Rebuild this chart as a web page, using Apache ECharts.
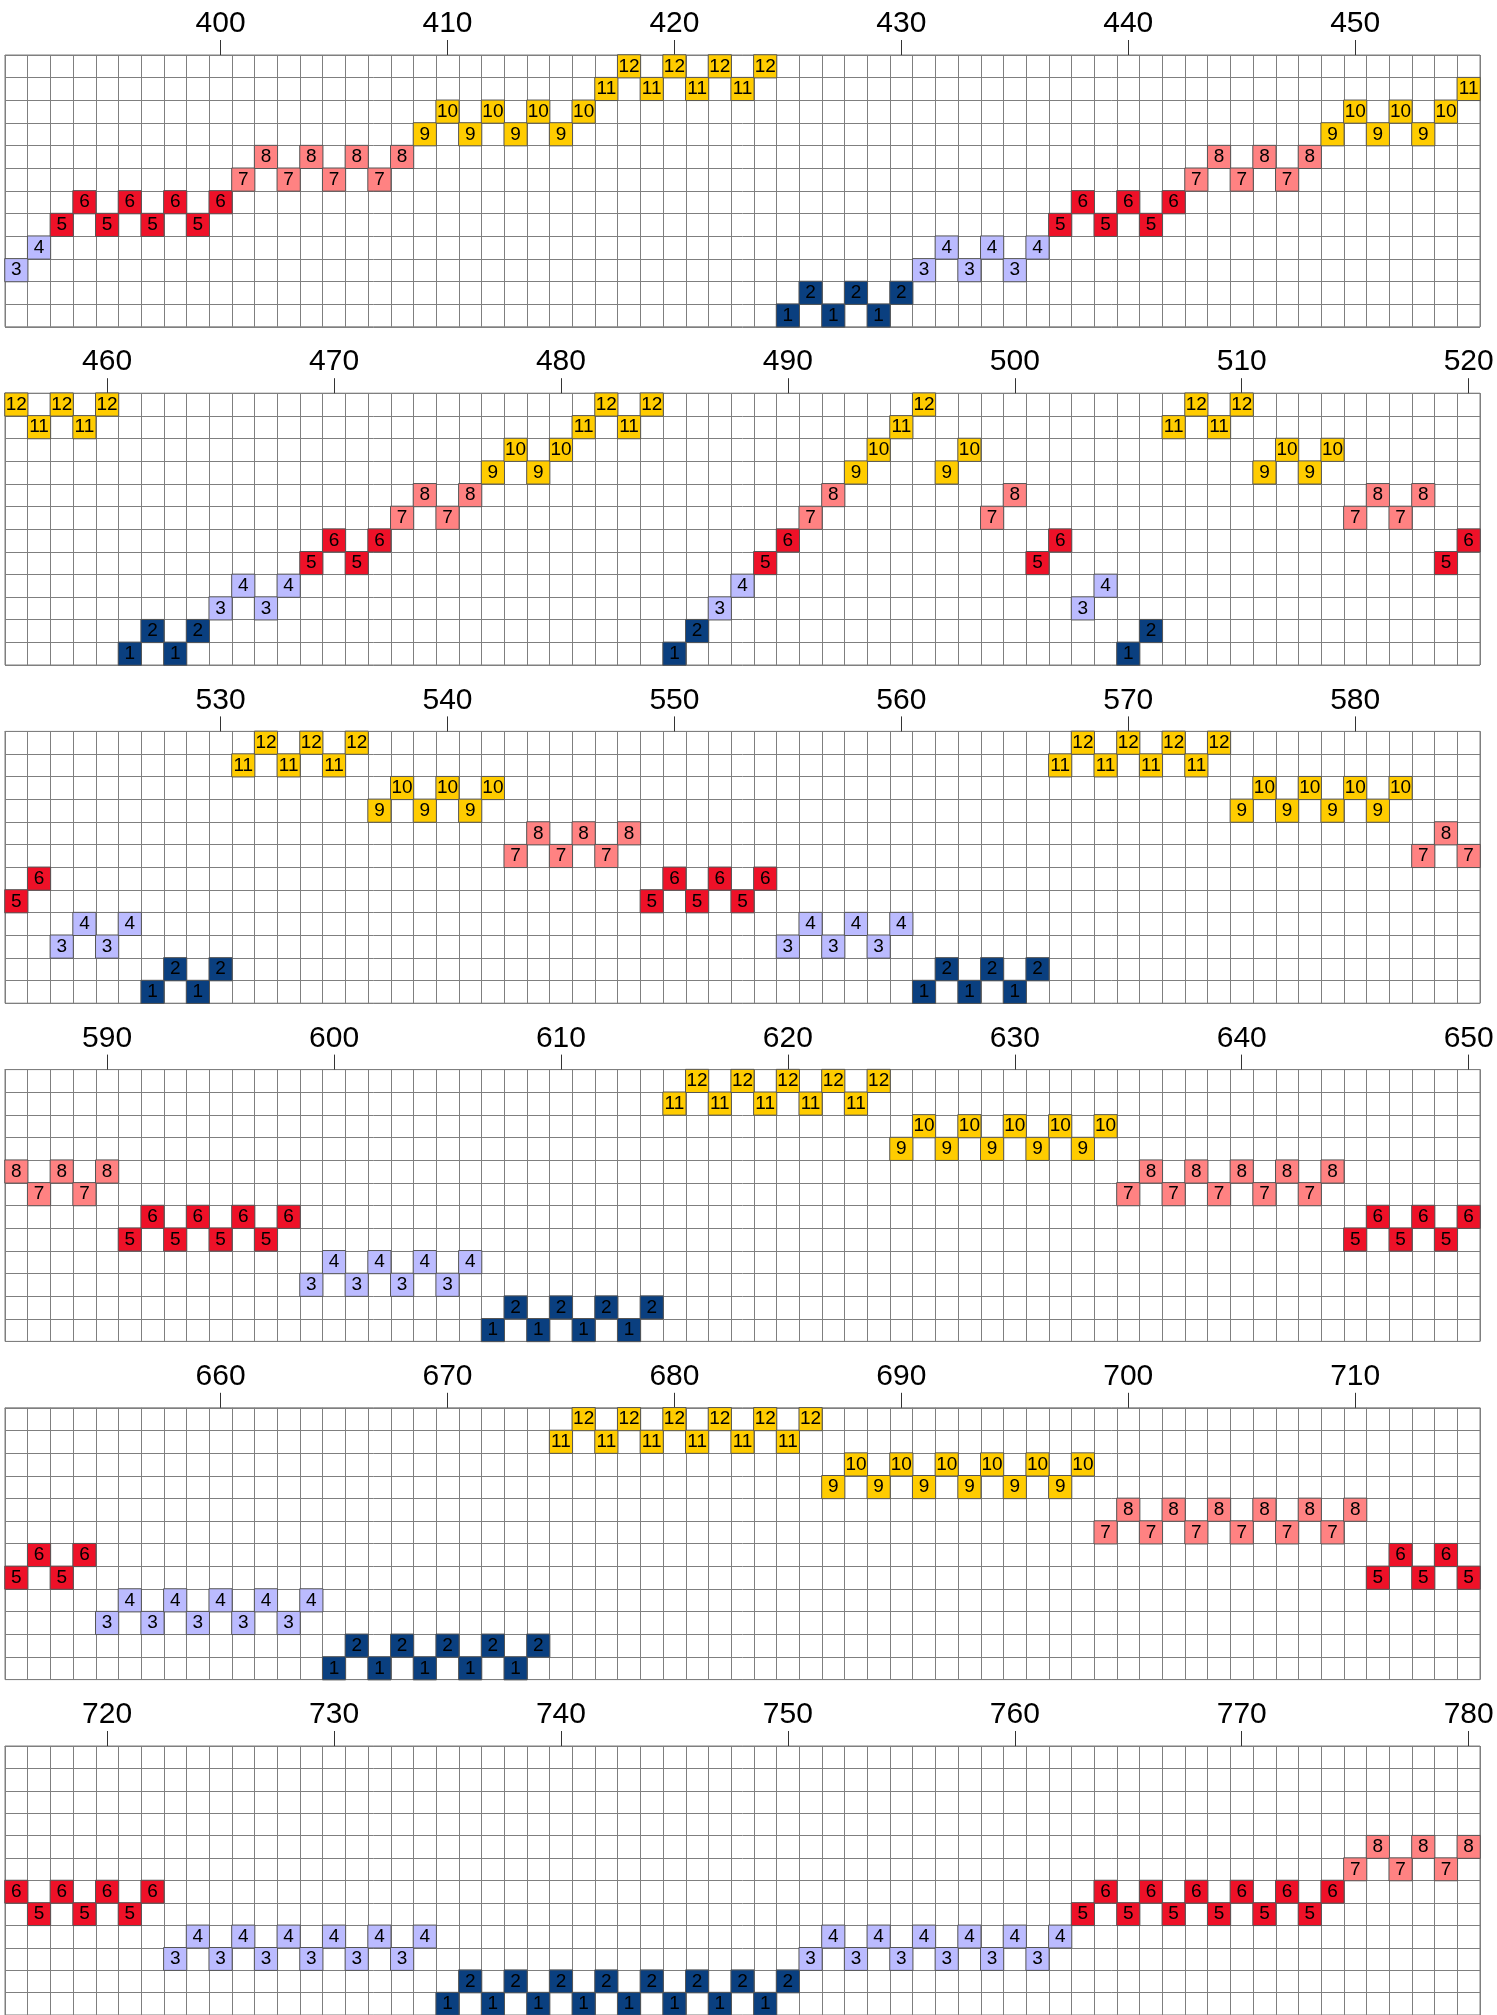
<!DOCTYPE html>
<html>
<head>
<meta charset="utf-8">
<script src="https://cdn.jsdelivr.net/npm/echarts@6/dist/echarts.min.js"></script>
<style>
html,body{margin:0;padding:0;background:#fff;}
#chart{width:1497px;height:2015px;}
</style>
</head>
<body>
<div id="chart"></div>
<script>
// First column (x value) of each panel; each panel has 65 columns
const panelStarts = [391, 456, 521, 586, 651, 716];
const columnsPerPanel = 65;
// Row categories (levels)
const levels = ['1','2','3','4','5','6','7','8','9','10','11','12'];
// Tick labels shown on top of the panels
const tickLabels = [400,410,420,430,440,450,460,470,480,490,500,510,520,530,540,550,560,570,580,
  590,600,610,620,630,640,650,660,670,680,690,700,710,720,730,740,750,760,770,780];

// Level value per column (null = empty)
const panel1Values = [3,4,5,6,5,6,5,6,5,6,7,8,7,8,7,8,7,8,9,10,9,10,9,10,9,10,11,12,11,12,11,12,11,12,
  1,2,1,2,1,2,3,4,3,4,3,4,5,6,5,6,5,6,7,8,7,8,7,8,9,10,9,10,9,10,11];
const panel2Values = [12,11,12,11,12,1,2,1,2,3,4,3,4,5,6,5,6,7,8,7,8,9,10,9,10,11,12,11,12,
  1,2,3,4,5,6,7,8,9,10,11,12,9,10,7,8,5,6,3,4,1,2,11,12,11,12,9,10,9,10,7,8,7,8,5,6];
const panel3Values = [5,6,3,4,3,4,1,2,1,2,11,12,11,12,11,12,9,10,9,10,9,10,7,8,7,8,7,8,5,6,5,6,5,6,
  3,4,3,4,3,4,1,2,1,2,1,2,11,12,11,12,11,12,11,12,9,10,9,10,9,10,9,10,7,8,7];
const panel4Values = [8,7,8,7,8,5,6,5,6,5,6,5,6,3,4,3,4,3,4,3,4,1,2,1,2,1,2,1,2,
  11,12,11,12,11,12,11,12,11,12,9,10,9,10,9,10,9,10,9,10,7,8,7,8,7,8,7,8,7,8,5,6,5,6,5,6];
const panel5Values = [5,6,5,6,3,4,3,4,3,4,3,4,3,4,1,2,1,2,1,2,1,2,1,2,
  11,12,11,12,11,12,11,12,11,12,11,12,9,10,9,10,9,10,9,10,9,10,9,10,7,8,7,8,7,8,7,8,7,8,7,8,5,6,5,6,5];
const panel6Values = [6,5,6,5,6,5,6,3,4,3,4,3,4,3,4,3,4,3,4,1,2,1,2,1,2,1,2,1,2,1,2,1,2,1,2,
  3,4,3,4,3,4,3,4,3,4,3,4,5,6,5,6,5,6,5,6,5,6,5,6,7,8,7,8,7,8];
const panelValues = [panel1Values, panel2Values, panel3Values, panel4Values, panel5Values, panel6Values];

const levelColors = {
  1:'#0a3f7f', 2:'#0a3f7f',
  3:'#bbbbff', 4:'#bbbbff',
  5:'#ee1128', 6:'#ee1128',
  7:'#ff8282', 8:'#ff8282',
  9:'#ffcc00', 10:'#ffcc00', 11:'#ffcc00', 12:'#ffcc00'
};

const FONT = 'Liberation Sans, Arial, sans-serif';
const chart = echarts.init(document.getElementById('chart'), null, {renderer:'canvas'});

const grids = [], xAxes = [], yAxes = [], series = [];
const tickSet = new Set(tickLabels.map(String));
const showTick = function(idx, val){ return tickSet.has(String(val)); };

panelStarts.forEach(function(start, p){
  const cats = [];
  for (let i = 0; i < columnsPerPanel; i++) cats.push(String(start + i));
  grids.push({
    left: 5, width: 1475,
    top: 55 + p * 338.2, height: 271.8,
    show: true, borderColor: '#7f7f7f', borderWidth: 1, backgroundColor: 'transparent'
  });
  xAxes.push({
    type: 'category', gridIndex: p, position: 'top', data: cats, boundaryGap: true,
    axisLine: {show: true, lineStyle: {color: '#7f7f7f', width: 1}},
    axisTick: {show: true, alignWithLabel: true, interval: showTick, length: 15,
      lineStyle: {color: '#333', width: 1}},
    axisLabel: {show: true, interval: showTick, fontSize: 30, color: '#000', margin: 16, fontFamily: FONT},
    splitLine: {show: true, interval: 0, lineStyle: {color: '#7f7f7f', width: 1}}
  });
  yAxes.push({
    type: 'category', gridIndex: p, data: levels, boundaryGap: true,
    axisLine: {show: false}, axisTick: {show: false}, axisLabel: {show: false},
    splitLine: {show: true, interval: 0, lineStyle: {color: '#7f7f7f', width: 1}}
  });
  const vals = panelValues[p];
  const data = [];
  vals.forEach(function(v, i){
    if (v == null) return;
    data.push({value: [i, v - 1, v], itemStyle: {color: levelColors[v]}});
  });
  series.push({
    type: 'heatmap', xAxisIndex: p, yAxisIndex: p, data: data,
    itemStyle: {borderColor: '#555', borderWidth: 1},
    label: {show: true, formatter: function(pr){ return String(pr.value[2]); },
      fontSize: 19, color: '#000', fontFamily: FONT},
    emphasis: {disabled: true},
    animation: false
  });
});

chart.setOption({
  animation: false,
  backgroundColor: '#fff',
  grid: grids, xAxis: xAxes, yAxis: yAxes, series: series
});
</script>
</body>
</html>
